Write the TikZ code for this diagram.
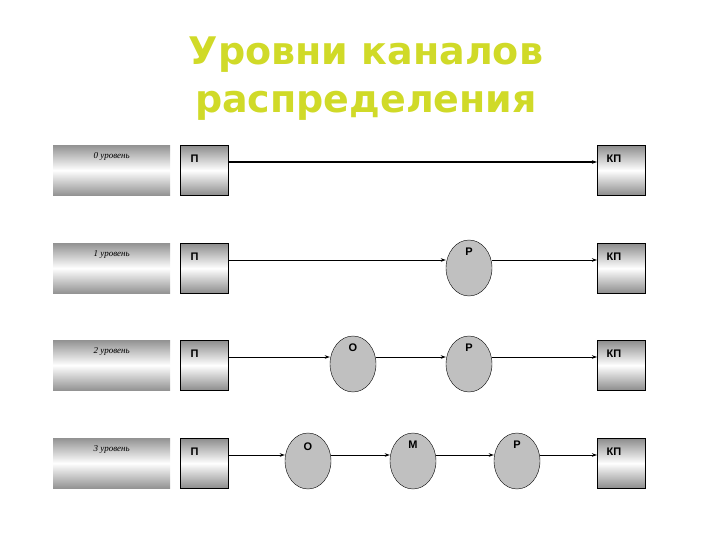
\documentclass[tikz,border=0pt]{standalone}
\usepackage{fontspec}
\setmainfont{Liberation Sans}
\newfontfamily\serifit{Liberation Serif}
\newfontfamily\titlefont{DejaVu Sans}
\usetikzlibrary{shapes.geometric,arrows.meta}
\definecolor{titlec}{RGB}{208,218,40}
\definecolor{ellc}{RGB}{192,192,192}
\tikzset{
  grad/.style={draw=black,line width=0.6pt,top color=gray!90,bottom color=gray!90,middle color=white,shading angle=0},
  lvl/.style={minimum width=117pt,minimum height=50pt,inner sep=0pt,top color=gray!85,bottom color=gray!85,middle color=white,anchor=north west},
  bx/.style={grad,minimum width=48pt,minimum height=50pt,inner sep=0pt,anchor=north west},
  ell/.style={ellipse,draw=black,fill=ellc,minimum width=46pt,minimum height=56pt,inner sep=0pt},
  lbl/.style={font=\fontsize{9}{9}\selectfont\serifit\itshape},
  bl/.style={font=\bfseries\fontsize{11}{11}\selectfont},
  con/.style={draw=black,line width=1pt,-{Stealth[length=5pt,width=3.5pt]}}
}
\begin{document}
\begin{tikzpicture}[x=1pt,y=-1pt]
\useasboundingbox (0,0) rectangle (720,540);
\node[font=\titlefont\bfseries\fontsize{38}{48}\selectfont,text=titlec,align=center] (t) at (366,79) {Уровни каналов\\распределения};
% rows
\foreach \r/\y/\n in {0/145/0,1/243/1,2/340/2,3/438/3}{
  \node[lvl] (l\r) at (53,\y) {};
  \node[lbl,anchor=north] at ([yshift=-4pt]l\r.north) {\n\ уровень};
  \node[bx] (p\r) at (180,\y) {};
  \node[bl,anchor=north west] at ([xshift=7pt,yshift=-6pt]p\r.north west) {П};
  \node[bx] (k\r) at (597,\y) {};
  \node[bl,anchor=north west] at ([xshift=6pt,yshift=-6pt]k\r.north west) {КП};
  \coordinate (s\r) at ([yshift=-17pt]p\r.north east);
  \coordinate (e\r) at ([yshift=-17pt]k\r.north west);
}
% row 0
\draw[con,line width=1.6pt] (s0) -- (e0);
% row 1
\node[ell] (r1) at (469,268) {};
\node[bl] at ([yshift=-12pt]r1.north) {Р};
\draw[con] (s1) -- (s1 -| r1.west);
\draw[con] (r1.east |- e1) -- (e1);
% row 2
\node[ell] (o2) at (353,364) {};
\node[bl] at ([yshift=-12pt]o2.north) {О};
\node[ell] (r2) at (469,364) {};
\node[bl] at ([yshift=-12pt]r2.north) {Р};
\draw[con] (s2) -- (s2 -| o2.west);
\draw[con] (o2.east |- s2) -- (s2 -| r2.west);
\draw[con] (r2.east |- e2) -- (e2);
% row 3
\node[ell] (o3) at (308,461) {};
\node[bl] at ([yshift=-14pt]o3.north) {О};
\node[ell] (m3) at (413,461) {};
\node[bl] at ([yshift=-12pt]m3.north) {М};
\node[ell] (r3) at (517,461) {};
\node[bl] at ([yshift=-12pt]r3.north) {Р};
\draw[con] (s3) -- (s3 -| o3.west);
\draw[con] (o3.east |- s3) -- (s3 -| m3.west);
\draw[con] (m3.east |- s3) -- (s3 -| r3.west);
\draw[con] (r3.east |- e3) -- (e3);
\end{tikzpicture}
\end{document}
